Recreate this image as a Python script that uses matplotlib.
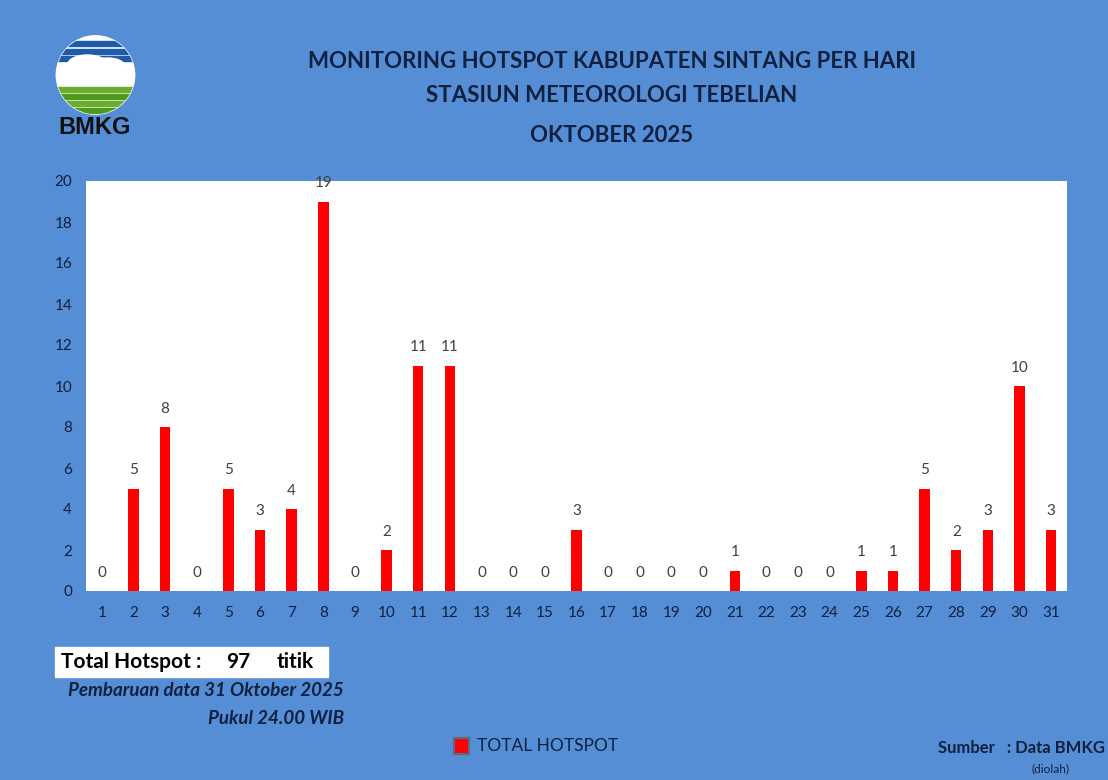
import numpy as np
import matplotlib
matplotlib.use("Agg")
import matplotlib.pyplot as plt
from matplotlib.patches import Circle, Rectangle, Ellipse

# data
days = [str(d) for d in range(1, 32)]
hotspots = [0, 5, 8, 0, 5, 3, 4, 19, 0, 2, 11, 11, 0, 0, 0, 3,
            0, 0, 0, 0, 1, 0, 0, 0, 1, 1, 5, 2, 3, 10, 3]
y_ticks = [0, 2, 4, 6, 8, 10, 12, 14, 16, 18, 20]

title_lines = ["MONITORING HOTSPOT KABUPATEN SINTANG PER HARI",
               "STASIUN METEOROLOGI TEBELIAN",
               "OKTOBER 2025"]

bg = '#558ED5'
navy = '#0F2040'
W, H = 1108, 780

plt.rcParams['font.family'] = ['Lato', 'DejaVu Sans']

fig = plt.figure(figsize=(W / 100, H / 100), dpi=100, facecolor=bg)

def fx(px):
    return px / W

def fy(py):
    return 1 - py / H

# main plot
ax = fig.add_axes([fx(86), fy(591), fx(1067) - fx(86), fy(181) - fy(591)])
ax.set_facecolor('white')
x = np.arange(len(days))
ax.bar(x, hotspots, width=0.33, color='#FF0000')
for xi, v in zip(x, hotspots):
    ax.annotate(str(v), (xi, v), xytext=(0, 13), textcoords='offset points',
                ha='center', va='center', fontsize=11, color='#404040')
ax.set_xlim(-0.5, len(days) - 0.5)
ax.set_ylim(0, 20)
ax.set_xticks(x)
ax.set_xticklabels(days)
ax.set_yticks(y_ticks)
ax.tick_params(length=0, labelsize=11, colors=navy)
ax.tick_params(axis='x', pad=11)
ax.tick_params(axis='y', pad=10)
for s in ax.spines.values():
    s.set_visible(False)

# titles
for txt, py in zip(title_lines, [61, 95, 136]):
    fig.text(fx(612), fy(py), txt, ha='center', va='center',
             fontsize=16, fontweight='bold', color=navy)

# BMKG logo (simplified)
lax = fig.add_axes([fx(55), fy(115), fx(136) - fx(55), fy(35) - fy(115)])
lax.set_xlim(-1, 1)
lax.set_ylim(-1, 1)
lax.set_aspect('equal')
lax.axis('off')
clip = Circle((0, 0), 0.98, transform=lax.transData)
lax.add_patch(Circle((0, 0), 0.98, color='white', zorder=0))
for yy, c in [(0.8, '#1E5BA8'), (0.6, '#1E5BA8'), (0.42, '#1E5BA8'),
              (-0.35, '#6BAE2E'), (-0.52, '#4E9A1E'), (-0.7, '#6BAE2E'), (-0.88, '#4E9A1E')]:
    r = Rectangle((-1, yy - 0.07), 2, 0.12, color=c, zorder=1)
    r.set_clip_path(clip)
    lax.add_patch(r)
for cx, cy, w, h in [(-0.2, 0.25, 1.0, 0.5), (0.3, 0.2, 0.9, 0.45), (0.0, 0.0, 1.9, 0.4)]:
    e = Ellipse((cx, cy), w, h, color='white', zorder=2)
    e.set_clip_path(clip)
    lax.add_patch(e)
fig.text(fx(95), fy(127), "BMKG", ha='center', va='center', fontsize=17,
         fontweight='bold', color='#111111', family=['Liberation Sans', 'DejaVu Sans'])

# total box
fig.patches.append(Rectangle((fx(55), fy(677)), fx(328) - fx(55), fy(647) - fy(677),
                             transform=fig.transFigure, color='white', zorder=1))
fig.text(fx(61), fy(662), "Total Hotspot :", ha='left', va='center',
         fontsize=15, fontweight='bold', color='black', zorder=2)
fig.text(fx(238), fy(662), "97", ha='center', va='center',
         fontsize=15, fontweight='bold', color='black', zorder=2)
fig.text(fx(277), fy(662), "titik", ha='left', va='center',
         fontsize=15, fontweight='bold', color='black', zorder=2)
fig.text(fx(344), fy(691), "Pembaruan data 31 Oktober 2025", ha='right', va='center',
         fontsize=13.5, fontweight='bold', style='italic', color=navy)
fig.text(fx(344), fy(718), "Pukul 24.00 WIB", ha='right', va='center',
         fontsize=13.5, fontweight='bold', style='italic', color=navy)

# legend
fig.patches.append(Rectangle((fx(454), fy(754)), fx(469) - fx(454), fy(738) - fy(754),
                             transform=fig.transFigure, facecolor='#FF0000',
                             edgecolor='#5A6A80', linewidth=1.5))
fig.text(fx(477), fy(746), "TOTAL HOTSPOT", ha='left', va='center',
         fontsize=12.5, color=navy)

# source
fig.text(fx(1105), fy(748), "Sumber   : Data BMKG", ha='right', va='center',
         fontsize=12, fontweight='bold', color=navy)
fig.text(fx(1050), fy(769), "(diolah)", ha='center', va='center',
         fontsize=8.5, color=navy)

fig.savefig("out.png", dpi=100, facecolor=bg)
